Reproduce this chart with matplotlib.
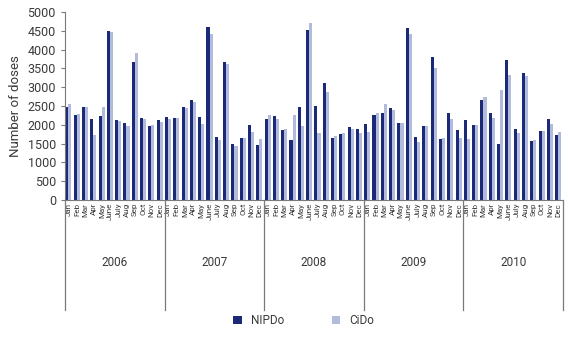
import matplotlib.pyplot as plt
import numpy as np

plt.rcParams['font.family'] = ['Roboto', 'DejaVu Sans']

years = ['2006', '2007', '2008', '2009', '2010']
months = ['Jan', 'Feb', 'Mar', 'Apr', 'May', 'June', 'July', 'Aug', 'Sep', 'Oct', 'Nov', 'Dec']

# monthly doses, 2006-2010
nipdo = [2480, 2260, 2480, 2160, 2230, 4500, 2140, 2050, 3660, 2190, 1980, 2120,
         2200, 2180, 2460, 2650, 2210, 4590, 1670, 3660, 1500, 1640, 1990, 1470,
         2150, 2240, 1870, 1590, 2480, 4510, 2510, 3110, 1660, 1760, 1940, 1900,
         2030, 2250, 2310, 2450, 2050, 4560, 1680, 1970, 3810, 1610, 2310, 1860,
         2130, 1990, 2670, 2310, 1500, 3710, 1900, 3370, 1580, 1830, 2160, 1740]
cido = [2540, 2290, 2480, 1740, 2480, 4460, 2100, 1960, 3900, 2160, 1990, 2070,
        2160, 2180, 2450, 2610, 2030, 4410, 1590, 3610, 1440, 1660, 1820, 1610,
        2250, 2150, 1900, 2270, 1970, 4700, 1790, 2870, 1690, 1790, 1890, 1790,
        1800, 2300, 2540, 2390, 2050, 4410, 1550, 1970, 3500, 1660, 2150, 1660,
        1630, 1990, 2740, 2170, 2920, 3330, 1780, 3300, 1590, 1830, 2010, 1820]

dark = '#1b2a78'
light = '#b3bbdd'
grey = '#7a7a7a'
txt = '#3a3a3a'

fig = plt.figure(figsize=(5.68, 3.41), dpi=100)
ax = fig.add_axes([0.1144, 0.4135, 0.877, 0.5515])

x = np.arange(len(nipdo))
w = 0.37
ax.bar(x + 0.04, nipdo, width=w, align='edge', color=dark, label='NIPDo')
ax.bar(x + 0.04 + w, cido, width=w, align='edge', color=light, label='CiDo')

ax.set_xlim(0, 60)
ax.set_ylim(0, 5000)
ax.set_yticks(np.arange(0, 5001, 500))
ax.tick_params(axis='y', labelsize=9, colors=txt, length=3, width=0.8)
ax.tick_params(axis='y', color=grey)
ax.set_ylabel('Number of doses', fontsize=9.5, color=txt, labelpad=4)

ax.set_xticks(x + 0.45)
ax.set_xticklabels(months * len(years), rotation=90, fontsize=5.8, color=txt)
ax.tick_params(axis='x', length=0, pad=2)

for s in ['top', 'right']:
    ax.spines[s].set_visible(False)
for s in ['left', 'bottom']:
    ax.spines[s].set_color(grey)
    ax.spines[s].set_linewidth(0.8)

trans = ax.get_xaxis_transform()
for k in range(len(years) + 1):
    ax.plot([k * 12, k * 12], [0, -0.585], transform=trans, color=grey,
            lw=0.9, clip_on=False)
for k, yr in enumerate(years):
    ax.text(k * 12 + 6, -0.33, yr, transform=trans, ha='center', va='center',
            fontsize=8.5, color=txt)

fig.legend(loc='lower center', bbox_to_anchor=(0.535, 0.01), ncol=2, frameon=False,
           fontsize=8.5, handlelength=0.7, handleheight=0.7, columnspacing=4.0,
           labelcolor=txt)

fig.savefig('out.png', dpi=100)
